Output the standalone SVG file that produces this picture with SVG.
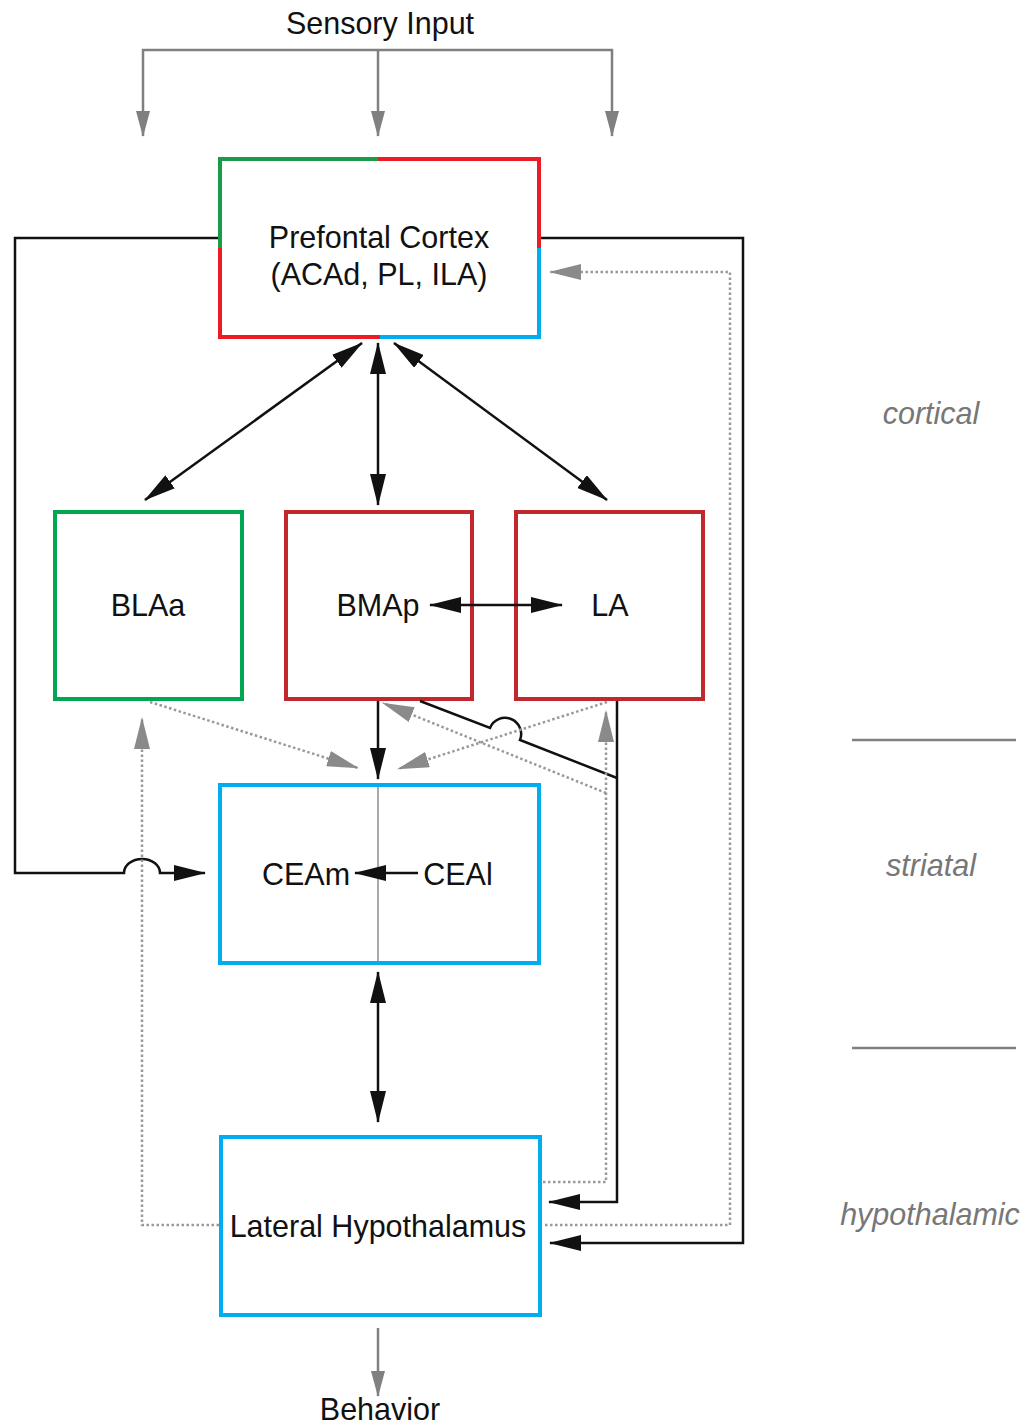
<svg xmlns="http://www.w3.org/2000/svg" width="1028" height="1427" viewBox="0 0 1028 1427">
<style>
text{font-family:"Liberation Sans",Arial,sans-serif;font-size:30.5px;fill:#111;text-anchor:middle}
.zone{font-style:italic;fill:#777}
.blk{fill:none;stroke:#111;stroke-width:2.5}
.gry{fill:none;stroke:#808080;stroke-width:2.5}
.dot{fill:none;stroke:#999;stroke-width:2.5;stroke-dasharray:2.5 2.5}
.box{fill:#fff;stroke-width:4}
.edge{fill:none;stroke-width:4}
</style>
<defs>
<marker id="ab" viewBox="0 0 32 16" refX="31" refY="8" markerWidth="32" markerHeight="16" markerUnits="userSpaceOnUse" orient="auto-start-reverse"><path d="M0,0 L32,8 L0,16 z" fill="#111"/></marker>
<marker id="ag" viewBox="0 0 26 14" refX="25" refY="7" markerWidth="26" markerHeight="14" markerUnits="userSpaceOnUse" orient="auto"><path d="M0,0 L26,7 L0,14 z" fill="#808080"/></marker>
<marker id="ad" viewBox="0 0 32 16" refX="31" refY="8" markerWidth="32" markerHeight="16" markerUnits="userSpaceOnUse" orient="auto"><path d="M0,0 L32,8 L0,16 z" fill="#8a8a8a"/></marker>
</defs>
<g id="zones">
<text class="zone" x="931" y="424">cortical</text>
<text class="zone" x="931" y="876">striatal</text>
<text class="zone" x="930" y="1225">hypothalamic</text>
<line x1="852" y1="740" x2="1016" y2="740" stroke="#808080" stroke-width="2.5"/>
<line x1="852" y1="1048" x2="1016" y2="1048" stroke="#808080" stroke-width="2.5"/>
</g>
<g id="pfc">
<rect x="220" y="159" width="319" height="178" fill="#fff"/>
<path class="edge" stroke="#1a9b48" d="M220,248 L220,159 L378,159"/>
<path class="edge" stroke="#ed1c24" d="M378,159 L539,159 L539,248"/>
<path class="edge" stroke="#00aeef" d="M539,248 L539,337 L380,337"/>
<path class="edge" stroke="#ed1c24" d="M380,337 L220,337 L220,248"/>
<text x="379" y="248">Prefontal Cortex</text>
<text x="379" y="285">(ACAd, PL, ILA)</text>
</g>
<g id="blaa">
<rect class="box" x="55" y="512" width="187" height="187" stroke="#00a651"/>
<text x="148" y="616">BLAa</text>
</g>
<g id="bmap">
<rect class="box" x="286" y="512" width="186" height="187" stroke="#c1272d"/>
<text x="378" y="616">BMAp</text>
</g>
<g id="la">
<rect class="box" x="516" y="512" width="187" height="187" stroke="#c1272d"/>
<text x="610" y="616">LA</text>
</g>
<g id="cea">
<rect class="box" x="220" y="785" width="319" height="178" stroke="#00aeef"/>
<line x1="378" y1="787" x2="378" y2="961" stroke="#aaa" stroke-width="2"/>
<text x="306" y="885">CEAm</text>
<text x="458" y="885">CEAl</text>
</g>
<g id="lh">
<rect class="box" x="221" y="1137" width="319" height="178" stroke="#00aeef"/>
<text x="378" y="1237">Lateral Hypothalamus</text>
</g>
<g id="labels">
<text x="380" y="34">Sensory Input</text>
<text x="380" y="1420">Behavior</text>
</g>
<g id="connectors">
<path class="gry" d="M378,50 L143,50 L143,136" marker-end="url(#ag)"/>
<path class="gry" d="M378,50 L612,50 L612,136" marker-end="url(#ag)"/>
<path class="gry" d="M378,50 L378,136" marker-end="url(#ag)"/>
<path class="gry" d="M378,1328 L378,1396" marker-end="url(#ag)"/>
<path class="blk" d="M218,238 L15,238 L15,873 L124,873 A18,14 0 0 1 160,873 L205,873" marker-end="url(#ab)"/>
<path class="blk" d="M541,238 L743,238 L743,1243 L550,1243" marker-end="url(#ab)"/>
<path class="blk" d="M617,701 L617,1202 L549,1202" marker-end="url(#ab)"/>
<path class="blk" d="M420,701 L490,728 A16,16 0 0 1 520,740 L617,778"/>
<path class="blk" d="M362,343 L145,500" marker-start="url(#ab)" marker-end="url(#ab)"/>
<path class="blk" d="M378,343 L378,505" marker-start="url(#ab)" marker-end="url(#ab)"/>
<path class="blk" d="M394,343 L607,500" marker-start="url(#ab)" marker-end="url(#ab)"/>
<path class="blk" d="M430,605 L562,605" marker-start="url(#ab)" marker-end="url(#ab)"/>
<path class="blk" d="M378,701 L378,779" marker-end="url(#ab)"/>
<path class="blk" d="M418,873 L355,873" marker-end="url(#ab)"/>
<path class="blk" d="M378,972 L378,1122" marker-start="url(#ab)" marker-end="url(#ab)"/>
<path class="dot" d="M545,1225 L730,1225 L730,272 L550,272" marker-end="url(#ad)"/>
<path class="dot" d="M543,1182 L606,1182 L606,711" marker-end="url(#ad)"/>
<path class="dot" d="M219,1225 L142,1225 L142,718" marker-end="url(#ad)"/>
<path class="dot" d="M150,702 L358,768" marker-end="url(#ad)"/>
<path class="dot" d="M607,702 L398,769" marker-end="url(#ad)"/>
<path class="dot" d="M606,793 L383,703" marker-end="url(#ad)"/>
</g>
</svg>
